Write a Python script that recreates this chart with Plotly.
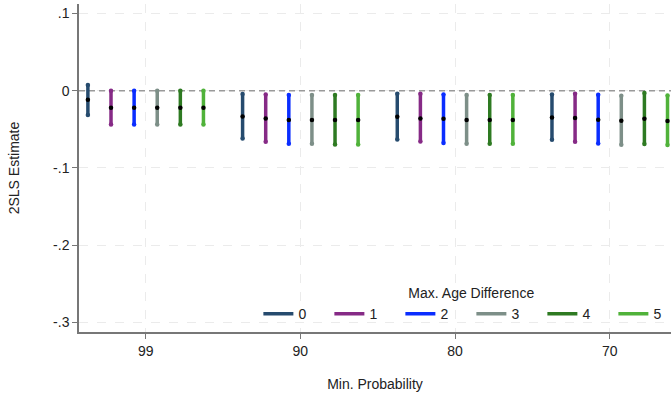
import plotly.graph_objects as go

# Data
groups = ["99", "90", "80", "70"]
series = ["0", "1", "2", "3", "4", "5"]
colors = ["#264b6e", "#862a86", "#0a2dff", "#7d8f88", "#2e7a22", "#50b23a"]

est = [
    [-0.0117, -0.0334, -0.0338, -0.0347],
    [-0.0221, -0.0360, -0.0360, -0.0355],
    [-0.0221, -0.0380, -0.0364, -0.0377],
    [-0.0221, -0.0380, -0.0380, -0.0390],
    [-0.0221, -0.0380, -0.0380, -0.0364],
    [-0.0221, -0.0380, -0.0380, -0.0394],
]
upper = [
    [0.0074, -0.0043, -0.0039, -0.0048],
    [0.0000, -0.0048, -0.0039, -0.0039],
    [0.0000, -0.0056, -0.0048, -0.0052],
    [0.0000, -0.0056, -0.0056, -0.0065],
    [0.0000, -0.0056, -0.0056, -0.0030],
    [0.0000, -0.0056, -0.0056, -0.0061],
]
lower = [
    [-0.0316, -0.0619, -0.0632, -0.0636],
    [-0.0437, -0.0662, -0.0658, -0.0662],
    [-0.0437, -0.0688, -0.0679, -0.0684],
    [-0.0437, -0.0688, -0.0688, -0.0701],
    [-0.0437, -0.0697, -0.0688, -0.0692],
    [-0.0437, -0.0697, -0.0688, -0.0705],
]

step = 0.1494
centers = list(range(len(groups)))

font_family = "Liberation Sans, Arial, sans-serif"
fig = go.Figure()

# zero reference line as a trace across the full x range
fig.add_trace(go.Scatter(
    x=[-0.431, 3.396], y=[0, 0], mode="lines", showlegend=False,
    line=dict(color="#9a9a9a", width=1.6, dash="6px,4px"), hoverinfo="skip",
))

for s, name in enumerate(series):
    xs, ys, ex, ey = [], [], [], []
    for g, c in enumerate(centers):
        x = c + (s - 2.5) * step
        xs += [x, x, None]
        ys += [lower[s][g], upper[s][g], None]
        ex += [x, x]
        ey += [lower[s][g], upper[s][g]]
    fig.add_trace(go.Scatter(
        x=xs, y=ys, mode="lines", name=name,
        line=dict(color=colors[s], width=3.5),
        legendgroup=name,
    ))
    fig.add_trace(go.Scatter(
        x=ex, y=ey, mode="markers", showlegend=False,
        marker=dict(color=colors[s], size=4.5),
        legendgroup=name, hoverinfo="skip",
    ))

for s in range(len(series)):
    fig.add_trace(go.Scatter(
        x=[c + (s - 2.5) * step for c in centers], y=est[s],
        mode="markers", showlegend=False,
        marker=dict(color="black", size=4.5),
    ))

fig.update_layout(
    width=671, height=396,
    margin=dict(l=79, r=0, t=4, b=64, autoexpand=False),
    paper_bgcolor="white", plot_bgcolor="white",
    font=dict(family=font_family, size=14, color="#222222"),
    showlegend=True,
    legend=dict(
        orientation="h",
        x=0.303, xanchor="left", y=0.006, yanchor="bottom",
        bgcolor="rgba(0,0,0,0)",
        title=dict(text="Max. Age Difference", side="top center", font=dict(size=14)),
        font=dict(size=14),
        entrywidth=26, entrywidthmode="pixels",
        tracegroupgap=0,
    ),
    xaxis=dict(
        range=[-0.431, 3.396],
        tickmode="array", tickvals=centers, ticktext=groups,
        showline=True, linecolor="#777777", linewidth=1.5,
        ticks="outside", ticklen=5, tickcolor="#777777", tickwidth=1,
        showgrid=True, gridcolor="#ebebeb", griddash="dash", gridwidth=1,
        zeroline=False,
        title=dict(text="Min. Probability", standoff=22, font=dict(size=14)),
        tickfont=dict(size=14),
    ),
    yaxis=dict(
        range=[-0.3126, 0.1123],
        tickmode="array", tickvals=[0.1, 0, -0.1, -0.2, -0.3],
        ticktext=[".1", "0", "-.1", "-.2", "-.3"],
        showline=True, linecolor="#777777", linewidth=1.5,
        ticks="outside", ticklen=5, tickcolor="#777777", tickwidth=1,
        showgrid=True, gridcolor="#ebebeb", griddash="dash", gridwidth=1,
        zeroline=False,
        title=dict(text="2SLS Estimate", standoff=30, font=dict(size=14)),
        tickfont=dict(size=14),
    ),
)

fig.write_html("out.html")
